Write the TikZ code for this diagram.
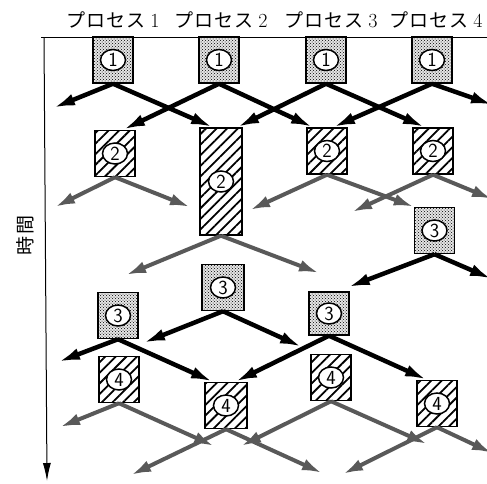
\documentclass[tikz,border=0pt]{standalone}
\usepackage{fontspec}
\newfontfamily\jpfont{Noto Sans CJK JP}
\usetikzlibrary{arrows.meta,calc,patterns,patterns.meta,shapes.geometric}

\newcommand{\procname}[1]{{\jpfont プ\kern1pt ロ\kern1pt セ\kern1pt ス}\kern5pt{\rmfamily\fontsize{20pt}{20pt}\selectfont #1}}

\begin{document}
\begin{tikzpicture}[x=1pt,y=-1pt,
  dotbox/.style={draw,line width=1.4pt,minimum width=40pt,minimum height=46pt,inner sep=0pt,
    fill=black!10,postaction={pattern=crosshatch dots}},
  hatchbox/.style={draw,line width=1.4pt,minimum width=40pt,minimum height=46pt,inner sep=0pt,
    fill=white,postaction={pattern={Lines[angle=45,distance=7.5pt,line width=1.8pt]}}},
  tag/.style={ellipse,draw,line width=1.5pt,fill=white,inner sep=0pt,
    minimum width=25pt,minimum height=21pt,font=\sffamily\fontsize{20pt}{20pt}\selectfont},
  msg/.style={line width=4.5pt,-{Latex[length=22pt,width=12pt]}},
  lost/.style={line width=4pt,draw=black!65,-{Latex[length=20pt,width=12pt]}},
  title/.style={font=\fontsize{19pt}{19pt}\selectfont}
]
	\useasboundingbox (0,0) rectangle (487,483);

	% Process names and time axis
	\node[title] (h1) at (113,20) {\procname{1}};
	\node[title] (h2) at (221,20) {\procname{2}};
	\node[title] (h3) at (331,20) {\procname{3}};
	\node[title] (h4) at (436,20) {\procname{4}};
	\node[title,rotate=90] (tm) at (25,235) {\jpfont 時\kern2pt 間};

	\coordinate (top left) at (41,37);
	\coordinate (top right) at (487,37);
	\coordinate (t0) at (44,37);
	\coordinate (t1) at (47,481);
	\draw[line width=1pt] (top left) -- (top right);
	\draw[line width=1pt,-{Latex[length=18pt,width=8pt]}] (t0) -- (t1);

	% Step 1
	\node[dotbox,label={[tag,name=t11]center:1}] (p1s1) at (113,60) {};
	\node[dotbox,label={[tag,name=t21]center:1}] (p2s1) at (219,60) {};
	\node[dotbox,label={[tag,name=t31]center:1}] (p3s1) at (326,60) {};
	\node[dotbox,label={[tag,name=t41]center:1}] (p4s1) at (432,60) {};

	% Step 2 (process 2 takes longer)
	\node[hatchbox,label={[tag,name=t12]center:2}] (p1s2) at (115,153.5) {};
	\node[hatchbox,minimum width=42pt,minimum height=107pt,label={[tag,name=t22]center:2}] (p2s2) at (221,181.5) {};
	\node[hatchbox,label={[tag,name=t32]center:2}] (p3s2) at (327,151) {};
	\node[hatchbox,label={[tag,name=t42]center:2}] (p4s2) at (433,151) {};

	% Step 3
	\node[dotbox,label={[tag,name=t43]center:3}] (p4s3) at (434.5,230.5) {};
	\node[dotbox,minimum width=42pt,label={[tag,name=t23]center:3}] (p2s3) at (223,287.5) {};
	\node[dotbox,label={[tag,name=t13]center:3}] (p1s3) at (118,315.5) {};
	\node[dotbox,minimum height=43pt,label={[tag,name=t33]center:3}] (p3s3) at (329,313.5) {};

	% Step 4
	\node[hatchbox,label={[tag,name=t14]center:4}] (p1s4) at (119,379.5) {};
	\node[hatchbox,minimum width=42pt,label={[tag,name=t24]center:4}] (p2s4) at (226,405.5) {};
	\node[hatchbox,label={[tag,name=t34]center:4}] (p3s4) at (331,377.5) {};
	\node[hatchbox,label={[tag,name=t44]center:4}] (p4s4) at (437,403.5) {};

	% free ends of the messages
	\coordinate (a1) at (53,108);
	\coordinate (a2) at (493,105);
	\coordinate (b1) at (55,207);
	\coordinate (b2) at (190,207);
	\coordinate (b3) at (126,275);
	\coordinate (b4) at (319,273);
	\coordinate (b5) at (250,210);
	\coordinate (b6) at (352,212);
	\coordinate (b7) at (492,199);
	\coordinate (c1) at (492,279);
	\coordinate (c2) at (143,343);
	\coordinate (c3) at (302,347);
	\coordinate (c4) at (58,362);
	\coordinate (d1) at (60,427);
	\coordinate (d2) at (214,446);
	\coordinate (d3) at (131,475);
	\coordinate (d4) at (322,473);
	\coordinate (d5) at (241,446);
	\coordinate (d6) at (427,444);
	\coordinate (d7) at (343,474);
	\coordinate (d8) at (492,453);

	% Messages after step 1
	\draw[msg] (p1s1.south) -- (a1);
	\draw[msg] (p1s1.south) -- ($(p2s2.north)+(-8,0)$);
	\draw[msg] (p2s1.south) -- ($(p1s2.north)+(8,0)$);
	\draw[msg] (p2s1.south) -- ($(p3s2.north)+(-14,0)$);
	\draw[msg] (p3s1.south) -- ($(p2s2.north)+(16,0)$);
	\draw[msg] (p3s1.south) -- ($(p4s2.north)+(-8,0)$);
	\draw[msg] (p4s1.south) -- ($(p3s2.north)+(6,0)$);
	\draw[msg] (p4s1.south) -- (a2);

	% Messages after step 2
	\draw[lost] (p1s2.south) -- (b1);
	\draw[lost] (p1s2.south) -- (b2);
	\draw[lost] (p2s2.south) -- (b3);
	\draw[lost] (p2s2.south) -- (b4);
	\draw[lost] (p3s2.south) -- (b5);
	\draw[lost] (p3s2.south) -- (p4s3.north west);
	\draw[lost] (p4s2.south) -- (b6);
	\draw[lost] (p4s2.south) -- (b7);

	% Messages after step 3
	\draw[msg] (p4s3.south) -- ($(p3s3.north east)+(-2,-4)$);
	\draw[msg] (p4s3.south) -- (c1);
	\draw[msg] (p2s3.south) -- (c2);
	\draw[msg] (p2s3.south) -- (c3);
	\draw[msg] (p1s3.south) -- (c4);
	\draw[msg] (p1s3.south) -- ($(p2s4.north)+(-13,0)$);
	\draw[msg] (p3s3.south) -- ($(p2s4.north)+(9,0)$);
	\draw[msg] (p3s3.south) -- ($(p4s4.north)+(-10,0)$);

	% Messages after step 4
	\draw[lost] (p1s4.south) -- (d1);
	\draw[lost] (p1s4.south) -- (d2);
	\draw[lost] (p2s4.south) -- (d3);
	\draw[lost] (p2s4.south) -- (d4);
	\draw[lost] (p3s4.south) -- (d5);
	\draw[lost] (p3s4.south) -- (d6);
	\draw[lost] (p4s4.south) -- (d7);
	\draw[lost] (p4s4.south) -- (d8);
\end{tikzpicture}
\end{document}
